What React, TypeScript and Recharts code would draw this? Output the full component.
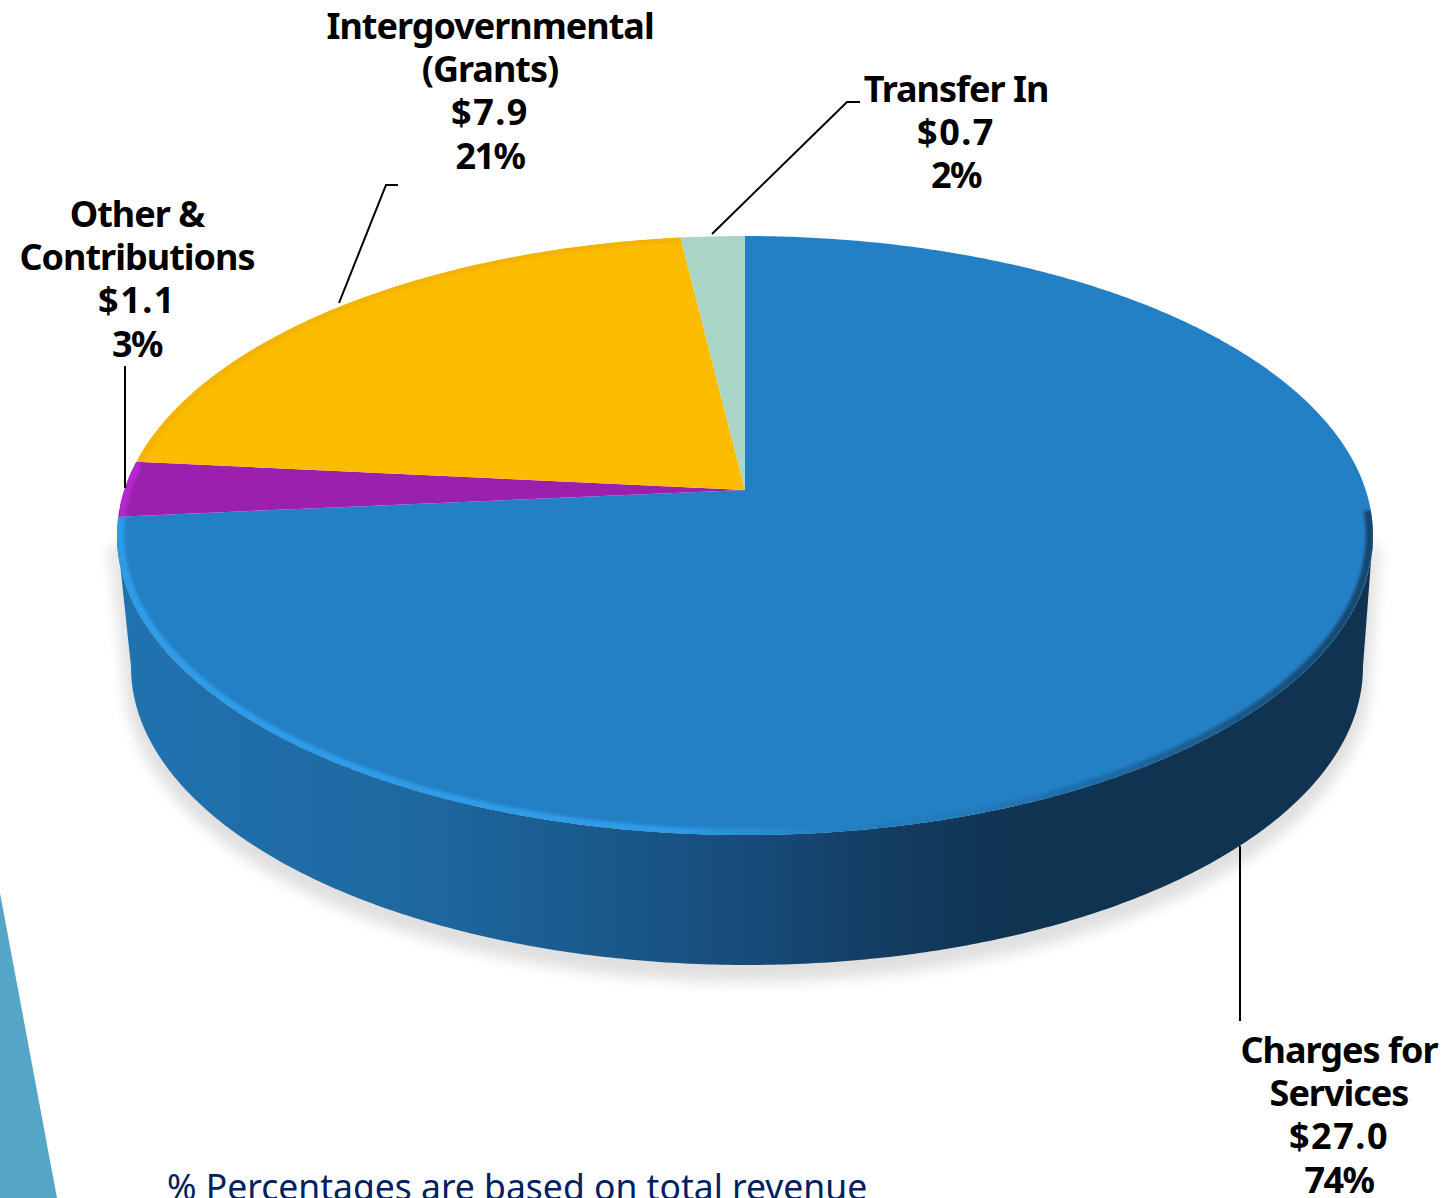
import { PieChart, Pie } from 'recharts'

const NAMES = ['Charges for Services', 'Other & Contributions', 'Intergovernmental (Grants)', 'Transfer In']
const NAME_LINES = [
  ['Charges for', 'Services'],
  ['Other &', 'Contributions'],
  ['Intergovernmental', '(Grants)'],
  ['Transfer In'],
]
const AMOUNTS = [27.0, 1.1, 7.9, 0.7]
const PERCENTS = [74, 3, 21, 2]

const FILLS = ['#2480c5', '#9b20ae', '#fbbc00', '#a8d5c5']
const RIMS = ['url(#rimGradient)', '#b426d0', '#f3b400', '#a8d5c5']

const rows = NAMES.map((name, i) => ({ name, value: AMOUNTS[i], fill: FILLS[i] }))

// where each label block sits, and the leader that ties it to its slice
const LABEL_X = [1339, 137, 490, 956]
const LABEL_Y = [1063, 227, 39, 102]
const LINE_GAP = 43.2
const LEADERS = [
  'M1240 846V1021',
  'M125 488V366',
  'M339 303L386 185H398',
  'M712 234L847 102H860',
]

const CX = 745
const CY = 490
const RADIUS = 620.7
const FONT = '"Noto Sans", sans-serif'

// the disc is tilted away from the viewer: a homography of the unit circle
const TILT = 0.152
const TOP_FORESHORTEN = 218.1
const BASE_X = 747
const BASE_Y = 621.8
const BASE_FORESHORTEN = 196.5
const BASE_RADIUS = 608.8
const FRONT_RIGHT = -8.7
const FRONT_LEFT = -171.3

const rad = (deg: number) => (deg * Math.PI) / 180

function topPoint(deg: number, scale = 1) {
  const u = Math.cos(rad(deg)) * scale
  const v = Math.sin(rad(deg)) * scale
  const w = 1 + TILT * v
  return [CX + (RADIUS * u) / w, (CY - TOP_FORESHORTEN * v) / w]
}

function basePoint(deg: number) {
  const u = Math.cos(rad(deg))
  const v = Math.sin(rad(deg))
  const w = 1 + TILT * v
  return [BASE_X + (BASE_RADIUS * u) / w, (BASE_Y - BASE_FORESHORTEN * v) / w]
}

function sweep(from: number, to: number, at: (deg: number) => number[]) {
  const steps = Math.max(2, Math.ceil(Math.abs(to - from) * 2))
  const pts: string[] = []
  for (let i = 0; i <= steps; i++) {
    const p = at(from + ((to - from) * i) / steps)
    pts.push(`${p[0].toFixed(2)} ${p[1].toFixed(2)}`)
  }
  return pts
}

function TopSlice(props: any) {
  const { startAngle, endAngle, fill, index } = props
  const i = index ?? FILLS.indexOf(fill)
  const d = `M${CX} ${CY}L${sweep(startAngle, endAngle, (a) => topPoint(a)).join('L')}Z`
  const rimFrom = i === 0 ? -4 : startAngle
  const rim = `M${sweep(rimFrom, endAngle, (a) => topPoint(a, 0.995)).join('L')}`
  const clip = `slice-${i}`
  return (
    <g>
      <clipPath id={clip}>
        <path d={d} />
      </clipPath>
      <path d={d} fill={fill} />
      <g clipPath={`url(#${clip})`}>
        <path d={rim} fill="none" stroke={RIMS[i]} strokeWidth={8} filter="url(#rimBlur)" />
      </g>
    </g>
  )
}

function WallSlice(props: any) {
  const { startAngle, endAngle } = props
  const from = Math.min(startAngle, FRONT_RIGHT)
  const to = Math.max(endAngle, FRONT_LEFT)
  if (from <= to) return <g />
  const upper = sweep(from, to, (a) => topPoint(a))
  const lower = sweep(to, from, basePoint)
  const d = `M${upper.join('L')}L${lower.join('L')}Z`
  return (
    <g>
      <path
        d={d}
        fill="#000"
        stroke="#000"
        strokeWidth={14}
        opacity={0.12}
        filter="url(#dropBlur)"
        transform="translate(0 10)"
      />
      <path d={d} fill="url(#wallGradient)" />
    </g>
  )
}

function SliceLabel(props: any) {
  const i = props.index
  const nameLines = NAME_LINES[i]
  const lines = [...nameLines, `$${AMOUNTS[i].toFixed(1)}`, `${PERCENTS[i]}%`]
  return (
    <text
      x={LABEL_X[i]}
      y={LABEL_Y[i]}
      textAnchor="middle"
      fontFamily={FONT}
      fontWeight={700}
      fontSize={36}
      fill="#000"
    >
      {lines.map((line, n) => {
        // amounts run wider than the names, the percentages tighter
        const spacing = n < nameLines.length ? -1 : n === nameLines.length ? 1.5 : -1.5
        return (
          <tspan key={n} x={LABEL_X[i]} y={LABEL_Y[i] + n * LINE_GAP} letterSpacing={spacing}>
            {line}
          </tspan>
        )
      })}
    </text>
  )
}

function SliceLeader(props: any) {
  return <path d={LEADERS[props.index]} fill="none" stroke="#000" strokeWidth={2} />
}

export default function App() {
  return (
    <div style={{ position: 'absolute', left: 0, top: 0, width: 1447, height: 1198, overflow: 'hidden', background: '#fff' }}>
      <PieChart width={1447} height={1198} margin={{ top: 0, right: 0, bottom: 0, left: 0 }}>
        <defs>
          <linearGradient id="wallGradient" gradientUnits="userSpaceOnUse" x1={117} x2={1373} y1={0} y2={0}>
            <stop offset="0" stopColor="#2073b0" />
            <stop offset="0.25" stopColor="#1e679f" />
            <stop offset="0.38" stopColor="#1a5a8c" />
            <stop offset="0.5" stopColor="#174c7b" />
            <stop offset="0.62" stopColor="#133c60" />
            <stop offset="0.72" stopColor="#0f3350" />
            <stop offset="1" stopColor="#0f3350" />
          </linearGradient>
          <linearGradient id="rimGradient" gradientUnits="userSpaceOnUse" x1={117} x2={1373} y1={0} y2={0}>
            <stop offset="0" stopColor="#2f9ce8" />
            <stop offset="0.44" stopColor="#2f9ce8" />
            <stop offset="0.56" stopColor="#2480c5" />
            <stop offset="0.72" stopColor="#2075b5" />
            <stop offset="1" stopColor="#15466c" />
          </linearGradient>
          <filter id="rimBlur" x="-5%" y="-5%" width="110%" height="110%">
            <feGaussianBlur stdDeviation="1.6" />
          </filter>
          <filter id="dropBlur" x="-5%" y="-10%" width="110%" height="120%">
            <feGaussianBlur stdDeviation="7" />
          </filter>
        </defs>
        <polygon points="0,893 57,1198 0,1198" fill="#55a5c6" />
        <Pie
          data={rows}
          dataKey="value"
          nameKey="name"
          cx={CX}
          cy={CY}
          outerRadius={RADIUS}
          startAngle={90}
          endAngle={-270}
          stroke="none"
          shape={WallSlice}
          isAnimationActive={false}
        />
        <Pie
          data={rows}
          dataKey="value"
          nameKey="name"
          cx={CX}
          cy={CY}
          outerRadius={RADIUS}
          startAngle={90}
          endAngle={-270}
          stroke="none"
          shape={TopSlice}
          label={SliceLabel}
          labelLine={SliceLeader}
          isAnimationActive={false}
        />
        <text x={167} y={1200} fontFamily={FONT} fontSize={35.5} fill="#002060">
          % Percentages are based on total revenue
        </text>
      </PieChart>
    </div>
  )
}
